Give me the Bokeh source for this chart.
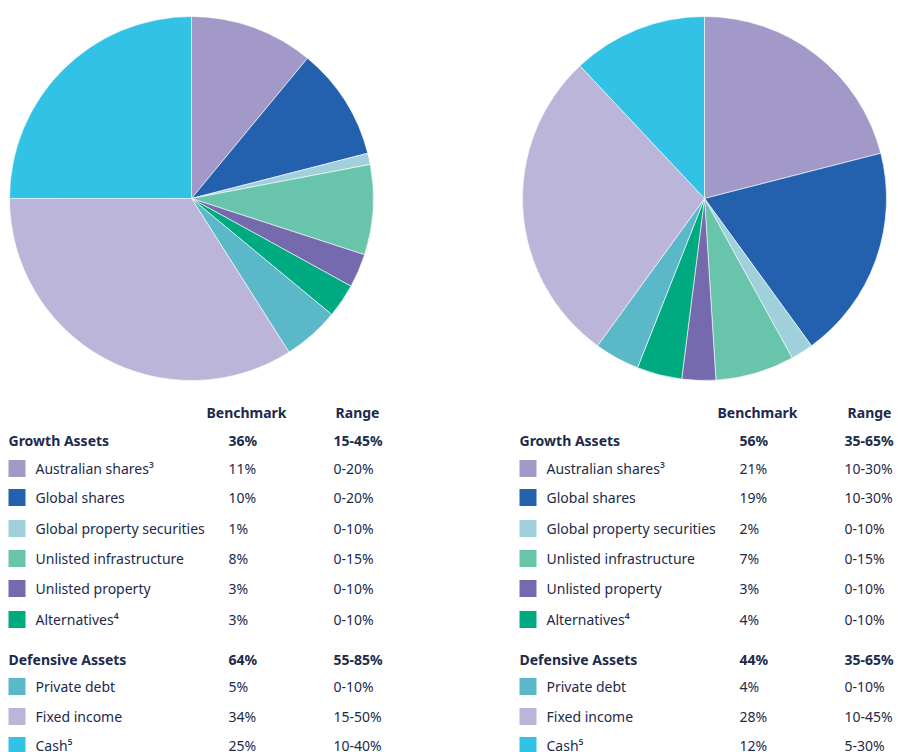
import numpy as np
from bokeh.plotting import figure
from bokeh.models import Range1d, ColumnDataSource
from bokeh.core.properties import value
from bokeh.embed import file_html
from bokeh.resources import INLINE

W, H = 898, 752

categories = ["Australian shares³", "Global shares", "Global property securities",
              "Unlisted infrastructure", "Unlisted property", "Alternatives⁴",
              "Private debt", "Fixed income", "Cash⁵"]
colors = ["#a399c8", "#2361ae", "#9fd0dc", "#68c4ab", "#766aae", "#00aa80",
          "#5bb8c9", "#bbb5d9", "#31c2e6"]
n_growth = 6

bench_left = [11, 10, 1, 8, 3, 3, 5, 34, 25]
range_left = ["0-20%", "0-20%", "0-10%", "0-15%", "0-10%", "0-10%", "0-10%", "15-50%", "10-40%"]
growth_left = ("36%", "15-45%")
defensive_left = ("64%", "55-85%")

bench_right = [21, 19, 2, 7, 3, 4, 4, 28, 12]
range_right = ["10-30%", "10-30%", "0-10%", "0-15%", "0-10%", "0-10%", "0-10%", "10-45%", "5-30%"]
growth_right = ("56%", "35-65%")
defensive_right = ("44%", "35-65%")

TXT = "#1c2b4b"
FONT = "Noto Sans"

p = figure(width=W, height=H, x_range=Range1d(0, W), y_range=Range1d(0, H),
           output_backend="svg", toolbar_location=None, min_border=0)
p.axis.visible = False
p.grid.visible = False
p.outline_line_color = None
p.background_fill_color = "white"
p.border_fill_color = "white"


def Y(y):
    return H - y


def pie(cx, cy, r, vals):
    v = np.array(vals, dtype=float)
    frac = v / v.sum()
    cum = np.concatenate([[0], np.cumsum(frac)])
    start = np.pi / 2 - 2 * np.pi * cum[:-1]
    end = np.pi / 2 - 2 * np.pi * cum[1:]
    src = ColumnDataSource(dict(start=start, end=end, color=colors))
    p.wedge(x=cx, y=Y(cy), radius=r, start_angle="start", end_angle="end",
            direction="clock", fill_color="color", line_color="white",
            line_width=0.6, source=src)


def table(x0, bench, rng, growth, defensive, bench_hdr_cx, range_hdr_cx, bx, rx):
    row_y = [468, 497, 528, 558, 588, 619, 686, 716, 745]
    # headers
    p.text(x=[bench_hdr_cx, range_hdr_cx], y=[Y(412)] * 2, text=["Benchmark", "Range"],
           text_font=value(FONT), text_font_size="14px", text_font_style="bold",
           text_color=TXT, text_align="center", text_baseline="middle")
    # group rows
    p.text(x=[x0, bx, rx], y=[Y(440)] * 3, text=["Growth Assets", growth[0], growth[1]],
           text_font=value(FONT), text_font_size="14px", text_font_style="bold",
           text_color=TXT, text_align="left", text_baseline="middle")
    p.text(x=[x0, bx, rx], y=[Y(659)] * 3, text=["Defensive Assets", defensive[0], defensive[1]],
           text_font=value(FONT), text_font_size="14px", text_font_style="bold",
           text_color=TXT, text_align="left", text_baseline="middle")
    ys = [Y(y) for y in row_y]
    p.rect(x=[x0 + 8.5] * len(ys), y=ys, width=17, height=17, fill_color=colors,
           line_color=None)
    p.text(x=[x0 + 27] * len(ys), y=ys, text=categories, text_font=value(FONT),
           text_font_size="14px", text_color=TXT, text_align="left", text_baseline="middle")
    p.text(x=[bx] * len(ys), y=ys, text=[f"{b}%" for b in bench], text_font=value(FONT),
           text_font_size="14px", text_color=TXT, text_align="left", text_baseline="middle")
    p.text(x=[rx] * len(ys), y=ys, text=rng, text_font=value(FONT),
           text_font_size="14px", text_color=TXT, text_align="left", text_baseline="middle")


pie(191, 198, 182, bench_left)
pie(704, 198, 182, bench_right)
table(8, bench_left, range_left, growth_left, defensive_left, 246, 357, 228, 333)
table(519, bench_right, range_right, growth_right, defensive_right, 757, 869, 739, 844)

open("out.html", "w").write(file_html(p, INLINE))
